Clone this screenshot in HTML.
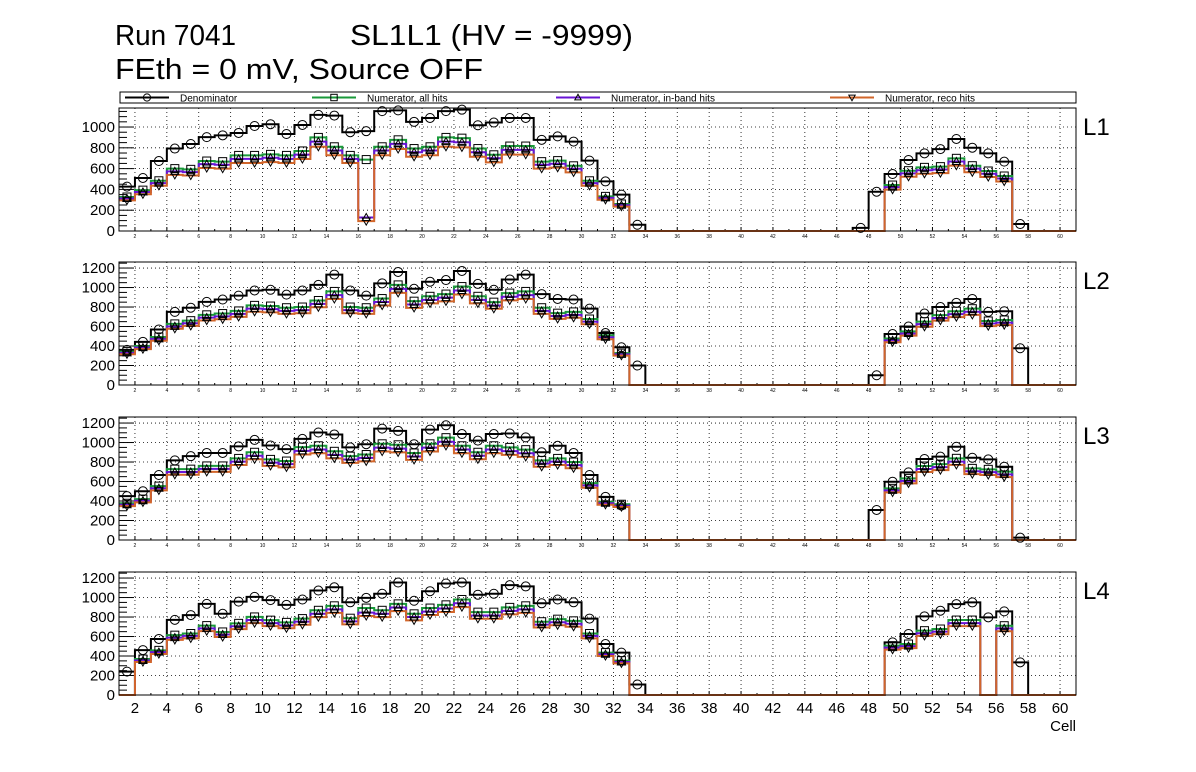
<!DOCTYPE html>
<html><head><meta charset="utf-8"><style>
html,body{margin:0;padding:0;background:#fff;}
svg{display:block;font-family:"Liberation Sans",sans-serif;}
</style></head><body>
<svg id="c" width="1196" height="772" viewBox="0 0 1196 772">
<text x="115" y="45" font-size="29" textLength="121" lengthAdjust="spacingAndGlyphs">Run 7041</text>
<text x="350" y="45" font-size="29" textLength="283" lengthAdjust="spacingAndGlyphs">SL1L1 (HV = -9999)</text>
<text x="115" y="79" font-size="29" textLength="368" lengthAdjust="spacingAndGlyphs">FEth = 0 mV, Source OFF</text>
</svg>
<script>
// cells 1..60 (index 0 = cell 1)
const cells = Array.from({length:60},(_,i)=>i+1);
const panelLabels = ["L1","L2","L3","L4"];
const seriesNames = ["Denominator","Numerator, all hits","Numerator, in-band hits","Numerator, reco hits"];
const z13=[0,0,0,0,0,0,0,0,0,0,0,0,0], z14=[0,0,0,0,0,0,0,0,0,0,0,0,0,0], z15=[0,0,0,0,0,0,0,0,0,0,0,0,0,0,0];
const L1den=[427,510,673,793,837,903,920,943,1010,1027,933,1020,1117,1110,950,960,1153,1160,1050,1087,1153,1167,1017,1043,1087,1087,877,910,860,677,477,350,60,...z13,30,378,548,683,747,788,885,801,747,667,67,0,0,0];
const L1all=[327,393,483,600,593,673,667,727,727,737,727,770,900,810,727,687,810,877,793,810,900,893,793,733,817,817,667,677,627,483,333,260,0,...z13,0,0,442,580,612,619,699,628,577,529,0,0,0,0];
const L1inb=[312,375,461,573,566,643,637,694,694,704,694,735,860,774,694,130,774,838,757,774,860,853,757,700,780,780,637,647,599,461,318,248,0,...z13,0,0,422,554,584,591,668,600,551,505,0,0,0,0];
const L1rec=[294,354,435,540,534,606,600,654,654,663,654,693,810,729,654,95,729,789,714,729,810,804,714,660,735,735,600,609,564,435,300,234,0,...z13,0,0,398,522,551,557,629,565,519,476,0,0,0,0];
const L2den=[360,443,570,750,793,853,877,917,970,977,927,970,1027,1133,970,917,1043,1160,987,1060,1077,1170,1037,977,1083,1133,933,883,877,783,533,387,200,...z14,100,523,600,733,800,843,883,750,757,377,0,0,0];
const L2all=[343,400,493,627,660,720,733,760,817,810,793,800,867,960,800,793,887,1027,860,910,933,1010,910,850,943,960,793,737,750,677,510,327,0,...z14,0,477,550,650,717,757,783,657,667,0,0,0,0];
const L2inb=[329,384,473,602,634,691,704,730,784,778,761,768,832,922,768,761,852,986,826,874,896,970,874,816,905,922,761,708,720,650,490,314,0,...z14,0,458,528,624,688,727,752,631,640,0,0,0,0];
const L2rec=[316,368,454,577,607,662,674,699,752,745,730,736,798,883,736,730,816,945,791,837,858,929,837,782,868,883,730,678,690,623,469,301,0,...z14,0,439,506,598,660,696,720,604,614,0,0,0,0];
const L3den=[450,500,667,817,860,893,893,960,1027,970,933,1037,1103,1083,950,983,1143,1120,983,1133,1177,1087,1020,1087,1093,1053,900,967,893,667,443,353,0,...z14,308,598,694,831,855,957,844,827,752,24,0,0,0];
const L3all=[377,420,553,727,727,760,760,837,900,827,810,953,967,910,860,877,987,977,893,987,1050,967,900,967,950,927,817,837,800,583,393,367,0,...z14,0,530,632,759,779,838,735,725,701,0,0,0,0];
const L3inb=[362,403,531,698,698,730,730,804,864,794,778,915,928,874,826,842,948,938,857,948,1008,928,864,928,912,890,784,804,768,560,377,352,0,...z14,0,509,607,729,748,804,706,696,673,0,0,0,0];
const L3rec=[347,386,509,669,669,699,699,770,828,761,745,877,890,837,791,807,908,899,822,908,966,890,828,890,874,853,752,770,736,536,362,338,0,...z14,0,488,581,698,717,771,676,667,645,0,0,0,0];
const L4den=[240,461,575,771,820,935,833,958,1007,974,925,980,1072,1105,951,997,1039,1154,967,1065,1144,1154,1029,1039,1127,1114,941,980,951,784,523,435,108,...z15,540,626,807,865,933,950,797,858,335,0,0,0];
const L4all=[0,369,458,614,631,712,647,735,801,768,745,784,869,915,788,892,869,935,833,892,925,980,850,850,899,915,752,778,761,631,435,353,0,...z15,506,523,660,677,769,769,0,711,0,0,0,0];
const L4inb=[0,354,440,589,606,684,621,706,769,737,715,753,834,878,756,845,834,898,800,856,888,941,816,816,863,878,722,747,731,606,418,339,0,...z15,486,502,634,650,738,738,0,683,0,0,0,0];
const L4rec=[0,339,421,565,581,655,595,676,737,707,685,721,799,842,725,810,799,860,766,821,851,902,782,782,827,842,692,716,700,581,400,325,0,...z15,466,481,607,623,707,707,0,654,0,0,0,0];
const yTicks1=[0,200,400,600,800,1000];
const yTicks=[0,200,400,600,800,1000,1200];
const xTickLabels=[2,4,6,8,10,12,14,16,18,20,22,24,26,28,30,32,34,36,38,40,42,44,46,48,50,52,54,56,58,60];

const NS="http://www.w3.org/2000/svg";
const svg=document.getElementById('c');
const X0=119, X1=1076, XMIN=1, XMAX=61;
function xs(v){return X0+(v-XMIN)*(X1-X0)/(XMAX-XMIN);}
function mk(tag,attrs,parent){const e=document.createElementNS(NS,tag);for(const k in attrs)e.setAttribute(k,attrs[k]);(parent||svg).appendChild(e);return e;}
const panels=[
 {top:108,bot:231,ymax:1183,ticks:yTicks1,data:[L1den,L1all,L1inb,L1rec]},
 {top:262,bot:385,ymax:1262,ticks:yTicks,data:[L2den,L2all,L2inb,L2rec]},
 {top:417,bot:540,ymax:1262,ticks:yTicks,data:[L3den,L3all,L3inb,L3rec]},
 {top:572,bot:695,ymax:1262,ticks:yTicks,data:[L4den,L4all,L4inb,L4rec]}];
const colors=["#000000","#1a9a3a","#6a14d6","#d2662a"];

function drawMarker(g,i,x,y,s){
  s=s||1;
  if(i===0) mk('circle',{cx:x,cy:y,r:4.5*s,fill:'none',stroke:'#000','stroke-width':1},g);
  else if(i===1) mk('rect',{x:x-4*s,y:y-4*s,width:8*s,height:8*s,fill:'none',stroke:'#000','stroke-width':1},g);
  else if(i===2) mk('polygon',{points:`${x},${y-4*s} ${x-4*s},${y+3*s} ${x+4*s},${y+3*s}`,fill:'none',stroke:'#000','stroke-width':1},g);
  else mk('polygon',{points:`${x},${y+4*s} ${x-4*s},${y-3*s} ${x+4*s},${y-3*s}`,fill:'none',stroke:'#000','stroke-width':1},g);
}

// legend
const lg=mk('g',{});


mk('rect',{x:120,y:92,width:956,height:11,fill:'#fff',stroke:'#000','stroke-width':1},lg);
const lx=[125,312,556,830];
seriesNames.forEach((n,i)=>{
  const eg=mk('g',{},lg);
  
  
  mk('line',{x1:lx[i],x2:lx[i]+44,y1:97.5,y2:97.5,stroke:colors[i],'stroke-width':2},eg);
  drawMarker(eg,i,lx[i]+22,97.5,0.8);
  const t=mk('text',{x:lx[i]+55,y:101.5,'font-size':10},eg);
  t.textContent=n;
});

panels.forEach((p,pi)=>{
  const g=mk('g',{});
  
  
  const ys=v=>p.bot-(v/p.ymax)*(p.bot-p.top);
  mk('rect',{x:X0,y:p.top,width:X1-X0,height:p.bot-p.top,fill:'#fff'},g);
  xTickLabels.forEach(v=>{const x=xs(v);mk('line',{x1:x,x2:x,y1:p.top,y2:p.bot,stroke:'#000','stroke-width':0.8,'stroke-dasharray':'1,3'},g);});
  p.ticks.forEach(v=>{if(v===0)return;const y=ys(v);mk('line',{x1:X0,x2:X1,y1:y,y2:y,stroke:'#000','stroke-width':0.8,'stroke-dasharray':'1,3'},g);});
  for(let v=0;v<=p.ymax;v+=50){const y=ys(v);const L=(v%200===0)?15:8;mk('line',{x1:X0,x2:X0+L,y1:y,y2:y,stroke:'#000','stroke-width':1},g);}
  p.ticks.forEach(v=>{const t=mk('text',{x:115,y:ys(v)+5,'font-size':15,'text-anchor':'end'},g);t.textContent=v;
    
    });
  for(let v=XMIN;v<=XMAX;v++){const x=xs(v);mk('line',{x1:x,x2:x,y1:p.bot,y2:p.bot-(v%2===0?4:2),stroke:'#000','stroke-width':1},g);}
  xTickLabels.forEach(v=>{
    const t=mk('text',{x:xs(v),y:pi===3?p.bot+18:p.bot+7,'font-size':pi===3?15:5,'text-anchor':'middle'},g);
    t.textContent=v;
    
    
  });
  p.data.forEach((arr,si)=>{
    let d='M'+xs(cells[0])+','+ys(arr[0]);
    arr.forEach((v,i)=>{d+=' L'+xs(cells[i])+','+ys(v)+' L'+xs(cells[i]+1)+','+ys(v);});
    const path=mk('path',{d:d,fill:'none',stroke:colors[si],'stroke-width':2,'stroke-linejoin':'miter'},g);
    
    
  });
  p.data.forEach((arr,si)=>{
    arr.forEach((v,i)=>{
      if(v<=0)return;
      const m=mk('g',{},g);
      
      
      drawMarker(m,si,xs(cells[i]+0.5),ys(v));
    });
  });
  mk('rect',{x:X0,y:p.top,width:X1-X0,height:p.bot-p.top,fill:'none',stroke:'#000','stroke-width':1},g);
  const lab=mk('text',{x:1083,y:p.top+27,'font-size':24},g);
  lab.textContent=panelLabels[pi];
  
  
});
const xt=mk('text',{x:1076,y:731,'font-size':15,'text-anchor':'end'});
xt.textContent='Cell';


</script>
</body></html>
